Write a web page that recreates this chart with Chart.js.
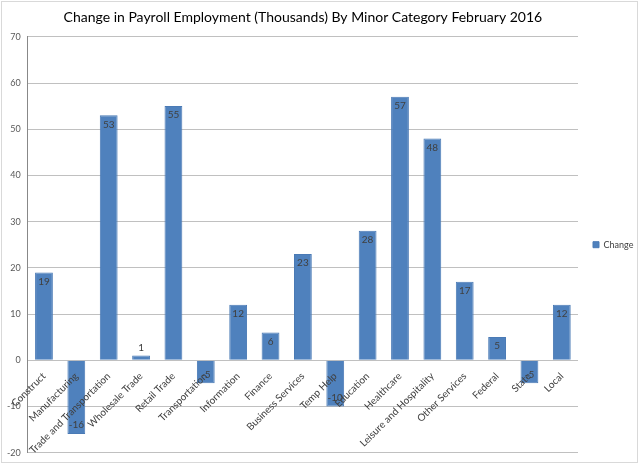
<!DOCTYPE html>
<html>
<head>
<meta charset="utf-8">
<script src="https://cdn.jsdelivr.net/npm/chart.js@4/dist/chart.umd.min.js"></script>
<style>
  html, body { margin: 0; padding: 0; background: #fff; }
  #wrap { width: 640px; height: 465px; }
</style>
</head>
<body>
<div id="wrap"><canvas id="myChart"></canvas></div>
<script>
const categories = ['Construct', 'Manufacturing', 'Trade and Transportation', 'Wholesale Trade',
  'Retail Trade', 'Transportation', 'Information', 'Finance', 'Business Services', 'Temp Help',
  'Education', 'Healthcare', 'Leisure and Hospitality', 'Other Services', 'Federal', 'State', 'Local'];
const changeValues = [19, -16, 53, 1, 55, -5, 12, 6, 23, -10, 28, 57, 48, 17, 5, -5, 12];
const yTicks = { min: -20, max: 70, step: 10 };

const FONT = 'Lato, "Open Sans", sans-serif';

// white background plus the thin frame round the whole chart
const frame = {
  id: 'frame',
  beforeDraw(chart) {
    const c = chart.ctx;
    c.save();
    c.fillStyle = '#fff';
    c.fillRect(0, 0, chart.width, chart.height);
    c.strokeStyle = '#d9d9d9';
    c.lineWidth = 1;
    c.strokeRect(1.5, 1.5, chart.width - 4, chart.height - 4);
    c.restore();
  }
};

// value labels, inside the end of each bar (outside when the bar is too short)
const valueLabels = {
  id: 'valueLabels',
  afterDatasetsDraw(chart) {
    const c = chart.ctx;
    const meta = chart.getDatasetMeta(0);
    c.save();
    c.font = '10px ' + FONT;
    c.fillStyle = '#404040';
    c.textAlign = 'center';
    c.textBaseline = 'middle';
    meta.data.forEach((bar, i) => {
      const v = changeValues[i];
      const h = Math.abs(bar.base - bar.y);
      let y;
      if (h < 14) {
        y = v >= 0 ? bar.y - 8 : bar.y + 8;
      } else {
        y = v >= 0 ? bar.y + 9 : bar.y - 9;
      }
      c.fillText(String(v), bar.x, y);
    });
    c.restore();
  }
};

new Chart(document.getElementById('myChart'), {
  type: 'bar',
  data: {
    labels: categories,
    datasets: [{
      label: 'Change',
      data: changeValues,
      backgroundColor: '#4f81bd',
      borderColor: '#4a7ab5',
      borderWidth: 1,
      barPercentage: 0.55,
      categoryPercentage: 1
    }]
  },
  options: {
    responsive: true,
    maintainAspectRatio: false,
    animation: false,
    layout: { padding: { left: 0, right: 0, top: 0, bottom: 10 } },
    scales: {
      x: {
        position: { y: 0 },
        grid: { display: false },
        border: { display: false },
        ticks: {
          z: 1,
          autoSkip: false,
          maxRotation: 45,
          minRotation: 45,
          padding: 2,
          color: '#404040',
          font: { family: FONT, size: 10 }
        }
      },
      y: {
        min: yTicks.min,
        max: yTicks.max,
        ticks: {
          stepSize: yTicks.step,
          padding: 7,
          color: '#595959',
          font: { family: FONT, size: 9 }
        },
        grid: { color: '#c0c0c0', drawTicks: false },
        border: { display: true, color: '#888' }
      }
    },
    plugins: {
      title: {
        display: true,
        fullSize: false,
        text: 'Change in Payroll Employment (Thousands) By Minor Category February 2016',
        color: '#000',
        font: { family: FONT, size: 14, weight: 'normal' },
        padding: { top: 9, bottom: 11 }
      },
      legend: {
        position: 'right',
        fullSize: false,
        maxWidth: 62,
        labels: {
          boxWidth: 6,
          boxHeight: 6,
          padding: 15,
          color: '#404040',
          font: { family: FONT, size: 9 }
        }
      },
      tooltip: { enabled: false }
    }
  },
  plugins: [frame, valueLabels]
});
</script>
</body>
</html>
